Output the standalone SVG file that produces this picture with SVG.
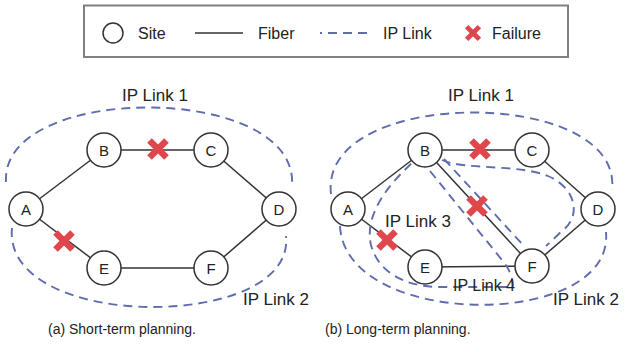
<svg xmlns="http://www.w3.org/2000/svg" width="625" height="352" viewBox="0 0 625 352">
  <style>
    text { font-family: "Liberation Sans", Arial, sans-serif; fill: #222; }
    .legend-text { font-size: 16px; }
    .link-label { font-size: 17px; }
    .caption { font-size: 14px; }
    .node circle { fill: #fff; stroke: #333; stroke-width: 1.5; }
    .node text { font-size: 15px; text-anchor: middle; }
    .fiber { stroke: #333; stroke-width: 1.5; fill: none; }
    .iplink { stroke: #5f6cae; stroke-width: 1.9; fill: none; stroke-dasharray: 9 6; }
    .fail { stroke: #e0474c; stroke-width: 6.5; stroke-linecap: butt; }
  </style>
  <defs>
    <!-- red cross marking a failed fiber -->
    <g id="failure-mark">
      <line class="fail" x1="-8.5" y1="-8.5" x2="8.5" y2="8.5"/>
      <line class="fail" x1="-8.5" y1="8.5" x2="8.5" y2="-8.5"/>
    </g>
  </defs>

  <rect width="625" height="352" fill="#fff"/>

  <!-- Legend -->
  <g id="legend">
    <rect x="84" y="5.5" width="484" height="51.5" fill="#fff" stroke="#808080" stroke-width="2"/>
    <circle cx="113" cy="33" r="10" fill="#fff" stroke="#333" stroke-width="1.5"/>
    <text class="legend-text" x="138" y="39">Site</text>
    <line class="fiber" x1="195" y1="33" x2="243" y2="33"/>
    <text class="legend-text" x="258" y="39">Fiber</text>
    <line class="iplink" x1="320" y1="33" x2="373" y2="33" stroke-dasharray="10 5" stroke-dashoffset="7"/>
    <text class="legend-text" x="383" y="39">IP Link</text>
    <g transform="translate(473,33) scale(0.75)">
      <use href="#failure-mark"/>
    </g>
    <text class="legend-text" x="492" y="39">Failure</text>
  </g>

  <!-- (a) Short-term planning -->
  <g id="short-term">
    <g id="short-connectors">
      <line class="fiber" x1="26" y1="209" x2="104" y2="150"/>
      <line class="fiber" x1="104" y1="150" x2="211" y2="150"/>
      <line class="fiber" x1="211" y1="150" x2="279" y2="209"/>
      <line class="fiber" x1="279" y1="209" x2="211" y2="268"/>
      <line class="fiber" x1="211" y1="268" x2="104" y2="268"/>
      <line class="fiber" x1="104" y1="268" x2="26" y2="209"/>
      <path class="iplink" d="M 6,182 C 0,82 300,82 292,186"/>
      <path class="iplink" d="M 12,228 C 2,332 296,332 286,236"/>
    </g>
    <g id="a-A" class="node"><circle cx="26" cy="209" r="17"/><text x="26" y="214.5">A</text></g>
    <g id="a-B" class="node"><circle cx="104" cy="150" r="17"/><text x="104" y="155.5">B</text></g>
    <g id="a-C" class="node"><circle cx="211" cy="150" r="17"/><text x="211" y="155.5">C</text></g>
    <g id="a-D" class="node"><circle cx="279" cy="209" r="17"/><text x="279" y="214.5">D</text></g>
    <g id="a-E" class="node"><circle cx="104" cy="268" r="17"/><text x="104" y="273.5">E</text></g>
    <g id="a-F" class="node"><circle cx="211" cy="268" r="17"/><text x="211" y="273.5">F</text></g>
    <use href="#failure-mark" x="158" y="149"/>
    <use href="#failure-mark" x="64" y="241"/>
    <text class="link-label" x="122" y="101">IP Link 1</text>
    <text class="link-label" x="243" y="305">IP Link 2</text>
  </g>

  <!-- (b) Long-term planning -->
  <g id="long-term">
    <g id="long-connectors">
      <line class="fiber" x1="348" y1="209" x2="425" y2="150"/>
      <line class="fiber" x1="425" y1="150" x2="532" y2="150"/>
      <line class="fiber" x1="532" y1="150" x2="598" y2="209"/>
      <line class="fiber" x1="598" y1="209" x2="532" y2="266"/>
      <line class="fiber" x1="532" y1="266" x2="425" y2="267"/>
      <line class="fiber" x1="425" y1="267" x2="348" y2="209"/>
      <line class="fiber" x1="425" y1="150" x2="532" y2="266"/>
      <!-- outer links A-D -->
      <path class="iplink" d="M 331,194 C 318,86 624,86 612,190"/>
      <path class="iplink" d="M 340,226 C 345,330 615,330 606,232"/>
      <!-- inner loop left of B-F -->
      <path class="iplink" d="M 430,171 L 502,260 Q 513,273 513,287 L 440,287 C 405,287 378,272 371,245 C 364,215 388,185 412,163"/>
      <!-- inner loop right of B-F -->
      <path class="iplink" d="M 444,159 L 524,246"/>
      <path class="iplink" d="M 442,160 C 462,170 520,164 548,176 C 576,188 582,216 562,231 L 546,246"/>
    </g>
    <g id="b-A" class="node"><circle cx="348" cy="209" r="17"/><text x="348" y="214.5">A</text></g>
    <g id="b-B" class="node"><circle cx="425" cy="150" r="17"/><text x="425" y="155.5">B</text></g>
    <g id="b-C" class="node"><circle cx="532" cy="150" r="17"/><text x="532" y="155.5">C</text></g>
    <g id="b-D" class="node"><circle cx="598" cy="209" r="17"/><text x="598" y="214.5">D</text></g>
    <g id="b-E" class="node"><circle cx="425" cy="267" r="17"/><text x="425" y="272.5">E</text></g>
    <g id="b-F" class="node"><circle cx="532" cy="266" r="17"/><text x="532" y="271.5">F</text></g>
    <use href="#failure-mark" x="480" y="149"/>
    <use href="#failure-mark" x="477" y="206"/>
    <use href="#failure-mark" x="387" y="240"/>
    <text class="link-label" x="448" y="101">IP Link 1</text>
    <text class="link-label" x="385" y="227">IP Link 3</text>
    <text class="link-label" x="453" y="291" style="font-size:16px">IP Link 4</text>
    <text class="link-label" x="553" y="305">IP Link 2</text>
  </g>

  <text class="caption" x="48" y="334">(a) Short-term planning.</text>
  <text class="caption" x="325" y="334">(b) Long-term planning.</text>
</svg>
